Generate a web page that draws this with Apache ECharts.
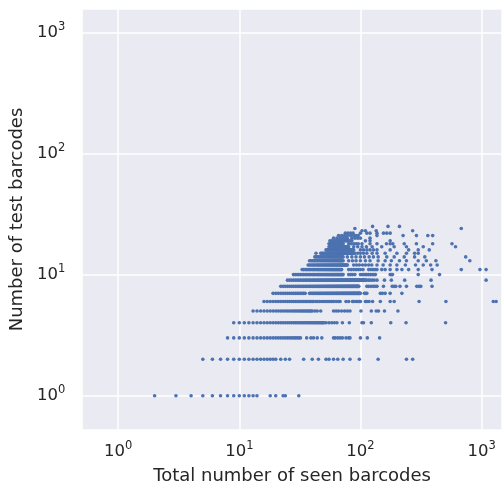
<!DOCTYPE html>
<html><head><meta charset="utf-8">
<script src="https://cdn.jsdelivr.net/npm/echarts@6/dist/echarts.min.js"></script>
<style>html,body{margin:0;padding:0;background:#fff}#c{width:502px;height:491px}</style>
</head><body><div id="c"></div>
<script>
const testCounts = [1,2,3,4,5,6,7,8,9,10,11,12,13,14,15,16,17,18,19,20,21,22,23,24,25];
const seen_t1 = [2,3,4,5,6,7,8,9,10,11,12,13,14,18,20,23,24,31];
const seen_t2 = [5,6,7,8,9,10,11,12,13,14,15,16,17,18,19,20,22,24,26,34,40,45,52,55,60,65,72,82,98,140,240,270];
const seen_t3 = [8,9,10,11,12,13,14,15,16,17,18,19,20,21,22,23,24,25,26,27,28,29,30,31,32,36,39,41,44,48,60,62,65,68,71,76,80,82,100,114,144];
const seen_t4 = [9,10,11,12,13,14,15,16,17,18,19,20,21,22,23,24,25,26,27,28,29,30,31,32,33,34,35,36,37,38,39,40,41,42,43,44,45,46,47,48,49,50,52,55,58,61,64,71,81,103,106,123,178,238,505];
const seen_t5 = [13,14,15,16,17,18,19,20,21,22,23,24,25,26,27,28,29,30,31,32,33,34,35,36,37,38,39,40,42,44,47,60,63,66,70,74,78,82,101,123,135,141,158,204];
const seen_t6 = [16,17,18,19,20,21,22,23,24,25,26,27,28,29,30,31,32,33,34,35,36,37,38,39,40,41,43,44,46,48,50,52,54,56,58,60,63,66,68,76,80,86,88,92,95,98,100,110,113,118,126,146,176,190,305,508,1250,1320];
const seen_t7 = [19,20,21,22,23,24,25,26,27,28,29,30,31,32,33,34,35,38,39,40,41,42,43,44,45,46,47,48,49,50,51,52,53,54,55,56,57,58,59,60,61,62,63,64,65,66,67,68,69,70,71,72,73,74,75,76,77,78,79,80,81,82,83,84,85,86,87,88,89,90,91,92,93,94,95,96,97,98,99,100,108,110,113,146,152,160,176,220];
const seen_t8 = [22,23,24,25,26,27,28,29,30,31,32,33,34,35,36,37,38,39,40,41,42,43,44,45,46,47,48,49,50,51,52,53,54,55,56,57,58,59,60,61,62,63,64,65,66,67,68,69,70,71,72,73,74,75,76,77,78,79,80,81,82,83,84,85,86,87,88,89,90,91,92,93,94,95,96,97,113,117,122,127,132,137,155,183,190,196,212,240,292,305,315,390];
const seen_t9 = [25,26,27,28,29,30,31,32,33,34,35,36,37,38,39,40,41,42,43,44,45,46,47,48,49,50,51,52,53,54,55,56,57,58,59,60,61,62,63,64,65,66,67,68,69,70,71,72,73,74,75,76,77,78,79,80,81,82,83,84,85,86,87,88,89,90,91,92,93,94,95,96,97,98,99,100,101,102,103,104,105,106,107,108,109,110,113,117,120,125,130,137,158,180,232,383,1090];
const seen_t10 = [28,29,30,31,32,33,34,35,36,37,38,39,40,41,42,43,44,45,46,47,48,49,50,51,52,53,54,55,56,57,58,59,60,61,62,63,64,65,66,67,68,69,70,71,72,80,83,86,90,100,103,106,110,113,117,121,125,129,133,176,180,184,300,450];
const seen_t11 = [33,34,35,36,37,38,39,40,41,42,43,44,45,46,47,48,49,50,51,52,53,54,55,56,57,58,59,60,61,62,63,64,65,66,67,68,69,70,80,84,88,92,96,100,105,117,122,127,132,137,150,160,176,200,220,250,300,390,680,970,1090];
const seen_t12 = [37,38,39,40,41,42,43,44,45,46,47,48,49,50,51,52,53,54,55,56,57,58,59,60,61,62,63,64,65,66,67,68,69,70,71,72,73,74,75,76,77,78,88,93,98,104,110,117,124,137,154,176,200,235,285,330,380,430];
const seen_t13 = [38,39,40,41,42,43,44,45,46,47,48,49,50,51,52,53,54,55,56,57,58,59,60,61,62,63,64,65,66,67,68,69,70,71,72,80,86,92,100,110,120,140,160,180,210,240,300,350,420,800];
const seen_t14 = [42,43,44,45,46,47,48,49,50,51,52,53,54,55,56,57,58,59,60,61,62,63,64,65,66,67,68,69,70,71,72,78,85,92,100,108,118,128,140,165,190,230,280,340,740];
const seen_t15 = [43,47,48,49,50,51,52,53,54,55,56,57,58,59,60,61,62,63,64,65,66,67,68,69,70,71,72,73,74,75,76,77,78,79,80,81,82,83,84,85,86,87,88,89,90,95,100,106,113,125,137,160,200,240,280,300];
const seen_t16 = [52,53,54,55,56,57,58,59,60,61,62,63,64,65,66,67,68,69,70,71,72,73,74,75,76,77,78,79,80,81,82,83,84,85,86,87,88,100,106,113,120,128,137,176,250,300,370];
const seen_t17 = [55,56,57,58,59,60,61,62,63,64,65,66,67,68,69,70,71,72,73,74,75,76,77,78,79,80,88,95,103,112,125,150,190,240,330,610];
const seen_t18 = [55,56,57,58,59,60,61,62,63,64,65,66,67,68,69,70,71,72,80,84,88,92,96,103,120,137,164,176,185,230,290,395,570];
const seen_t19 = [56,58,60,62,64,66,68,70,72,74,76,78,80,82,85,110,120,176];
const seen_t20 = [60,64,68,72,76,78,85,90,95,100,120];
const seen_t21 = [66,70,74,78,83,88,92,96,137,225,290,360,395];
const seen_t22 = [75,79,83,87,100,113,120,137,155,165,176];
const seen_t23 = [103,110,135,270];
const seen_t24 = [90,680];
const seen_t25 = [126,169,210];

const seenRows = [seen_t1,seen_t2,seen_t3,seen_t4,seen_t5,seen_t6,seen_t7,seen_t8,seen_t9,seen_t10,seen_t11,seen_t12,seen_t13,seen_t14,seen_t15,seen_t16,seen_t17,seen_t18,seen_t19,seen_t20,seen_t21,seen_t22,seen_t23,seen_t24,seen_t25];

const points = [];
seenRows.forEach((row, i) => row.forEach(x => points.push([x, testCounts[i]])));

const FONT = 'DejaVu Sans';
const TXT = '#262626';
function powLabel(v) {
  const e = Math.log10(v);
  const r = Math.round(e);
  if (Math.abs(e - r) > 1e-6) return '';
  return '{b|10}{s|' + r + '}';
}
const rich = {
  b: {fontSize: 16.5, color: TXT, fontFamily: FONT},
  s: {fontSize: 11.5, color: TXT, fontFamily: FONT, padding: [0, 0, 11, 0]}
};

const chart = echarts.init(document.getElementById('c'), null, {renderer: 'canvas'});
chart.setOption({
  animation: false,
  backgroundColor: '#ffffff',
  grid: {left: 81, right: 0, top: 9, bottom: 61, show: true, backgroundColor: '#eaeaf2', borderWidth: 0, containLabel: false},
  xAxis: {
    type: 'log', logBase: 10, min: 0.505, max: 1475,
    axisLine: {show: false}, axisTick: {show: false},
    splitLine: {show: true, lineStyle: {color: '#ffffff', width: 1.5}},
    axisLabel: {formatter: powLabel, rich: rich, margin: 10, showMinLabel: false, showMaxLabel: false},
    name: 'Total number of seen barcodes', nameLocation: 'middle', nameGap: 37,
    nameTextStyle: {fontSize: 18, color: TXT, fontFamily: FONT}
  },
  yAxis: {
    type: 'log', logBase: 10, min: 0.521, max: 1560,
    axisLine: {show: false}, axisTick: {show: false},
    splitLine: {show: true, lineStyle: {color: '#ffffff', width: 1.5}},
    axisLabel: {formatter: powLabel, rich: rich, margin: 17, showMinLabel: false, showMaxLabel: false},
    name: 'Number of test barcodes', nameLocation: 'middle', nameGap: 54,
    nameTextStyle: {fontSize: 18, color: TXT, fontFamily: FONT}
  },
  series: [{
    type: 'scatter', data: points, symbol: 'circle', symbolSize: 3.6,
    itemStyle: {color: '#4c72b0', opacity: 1}
  }]
});
</script>
</body></html>
